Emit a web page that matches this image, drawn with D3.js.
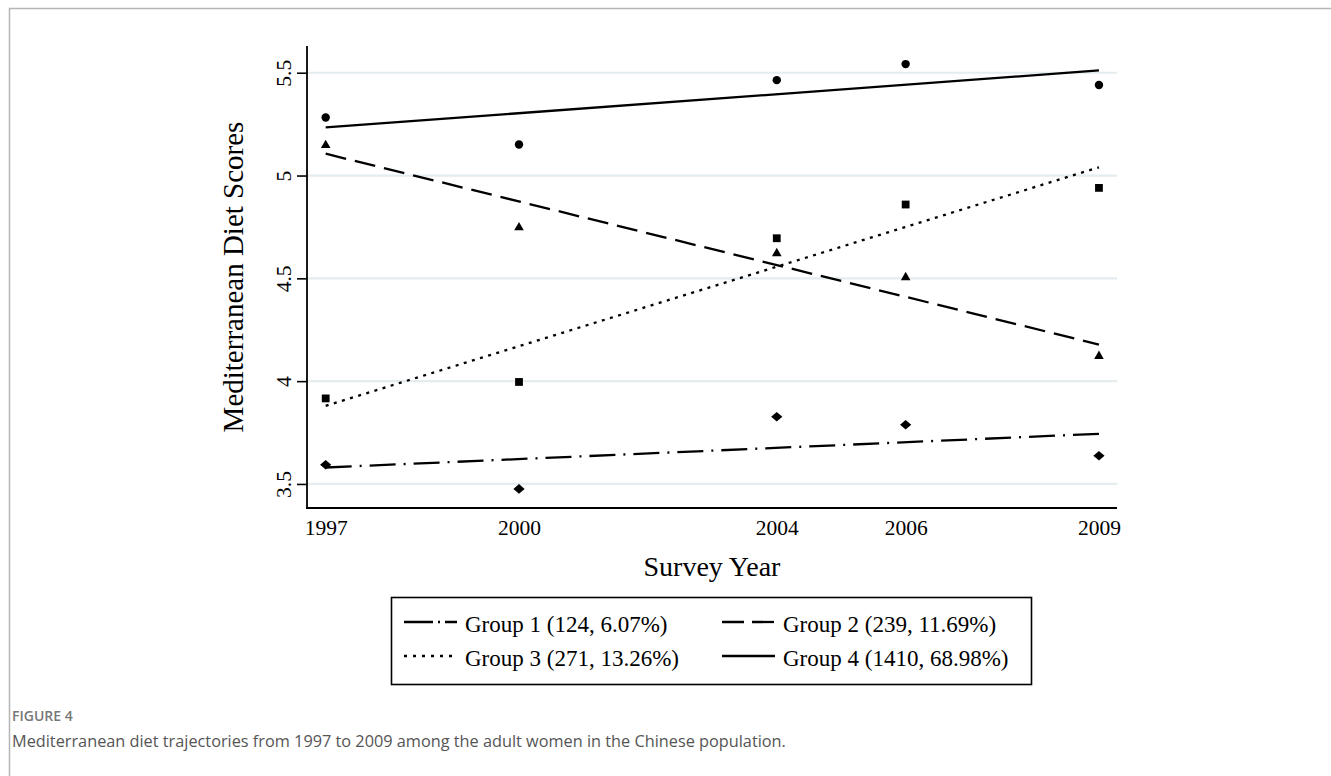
<!DOCTYPE html>
<html>
<head>
<meta charset="utf-8">
<script src="https://cdn.jsdelivr.net/npm/d3@7"></script>
<style>
  html, body { margin: 0; padding: 0; background: #fff; }
  svg { display: block; }
</style>
</head>
<body>
<svg id="chart" width="1331" height="776"></svg>
<script>
// ---------------- DATA ----------------
const years = [1997, 2000, 2004, 2006, 2009];
const yTicks = [3.5, 4, 4.5, 5, 5.5];
const yTickLabels = ["3.5", "4", "4.5", "5", "5.5"];
const groupNames = ["Group 1 (124, 6.07%)", "Group 2 (239, 11.69%)", "Group 3 (271, 13.26%)", "Group 4 (1410, 68.98%)"];
// observed means (markers)
const group1Points = [3.593, 3.476, 3.827, 3.788, 3.637];
const group2Points = [5.150, 4.750, 4.624, 4.507, 4.124];
const group3Points = [3.916, 3.996, 4.695, 4.859, 4.940];
const group4Points = [5.282, 5.151, 5.464, 5.542, 5.440];
// fitted trajectory values at first and last survey year
const fitYears = [1997, 2009];
const group1Fit = [3.580, 3.744];
const group2Fit = [5.106, 4.178];
const group3Fit = [3.880, 5.040];
const group4Fit = [5.234, 5.511];
const xTitle = "Survey Year";
const yTitle = "Mediterranean Diet Scores";
const figLabel = "FIGURE 4";
const captionText = "Mediterranean diet trajectories from 1997 to 2009 among the adult women in the Chinese population.";

// ---------------- SETUP ----------------
const svg = d3.select("#chart");
const serif = "'Liberation Serif', 'Times New Roman', serif";
const sans = "'Open Sans', 'Noto Sans', sans-serif";

// figure frame (top and left edge)
svg.append("path")
  .attr("d", "M9.5,776 L9.5,8.5 L1331,8.5")
  .attr("fill", "none").attr("stroke", "#b5b5b5").attr("stroke-width", 1.5);

const plot = { left: 307, right: 1117, top: 46, bottom: 508 };
const x = d3.scaleLinear().domain([1996.71, 2009.28]).range([plot.left, plot.right]);
const y = d3.scaleLinear().domain([3.383, 5.63]).range([plot.bottom, plot.top]);

// gridlines
svg.append("g").selectAll("line").data(yTicks).join("line")
  .attr("x1", plot.left).attr("x2", plot.right)
  .attr("y1", d => y(d)).attr("y2", d => y(d))
  .attr("stroke", "#e4ecef").attr("stroke-width", 2.2);

// y axis
const yAxis = svg.append("g").attr("transform", `translate(${plot.left},0)`)
  .call(d3.axisLeft(y).tickValues(yTicks).tickSize(10).tickSizeOuter(0)
    .tickFormat((d, i) => yTickLabels[i]));
yAxis.select(".domain").attr("d", `M0,${plot.top}V${plot.bottom}`).attr("stroke", "#000").attr("stroke-width", 1.8);
yAxis.selectAll(".tick line").attr("stroke", "#000").attr("stroke-width", 1.6);
yAxis.selectAll(".tick text")
  .attr("x", null).attr("dy", null)
  .attr("transform", "translate(-16,0) rotate(-90)")
  .attr("text-anchor", "middle")
  .attr("font-family", serif).attr("font-size", 21.5).attr("fill", "#000");

// x axis
const xAxis = svg.append("g").attr("transform", `translate(0,${plot.bottom})`)
  .call(d3.axisBottom(x).tickValues(years).tickSize(0).tickSizeOuter(0).tickFormat(d3.format("d")));
xAxis.select(".domain").attr("d", `M${plot.left - 1},0H${plot.right}`).attr("stroke", "#000").attr("stroke-width", 1.8);
xAxis.selectAll(".tick text")
  .attr("y", 27).attr("dy", null)
  .attr("font-family", serif).attr("font-size", 21.5).attr("fill", "#000");

// axis titles
svg.append("text")
  .attr("transform", `translate(243,${(plot.top + plot.bottom) / 2}) rotate(-90)`)
  .attr("text-anchor", "middle")
  .attr("font-family", serif).attr("font-size", 29).attr("fill", "#000")
  .text(yTitle);
svg.append("text")
  .attr("x", (plot.left + plot.right) / 2).attr("y", 576)
  .attr("text-anchor", "middle")
  .attr("font-family", serif).attr("font-size", 28).attr("fill", "#000")
  .text(xTitle);

// ---------------- SERIES ----------------
const tri = { draw(ctx) { const w = 4.8, h = 8.4; ctx.moveTo(0, -h * 0.6); ctx.lineTo(w, h * 0.4); ctx.lineTo(-w, h * 0.4); ctx.closePath(); } };
const dia = { draw(ctx) { ctx.moveTo(0, -4.8); ctx.lineTo(5.6, 0); ctx.lineTo(0, 4.8); ctx.lineTo(-5.6, 0); ctx.closePath(); } };
const sq = { draw(ctx) { const s = 3.9; ctx.rect(-s, -s, 2 * s, 2 * s); } };
const circ = { draw(ctx) { ctx.moveTo(4.2, 0); ctx.arc(0, 0, 4.2, 0, 2 * Math.PI); } };

const series = [
  { pts: group1Points, fit: group1Fit, dash: "26,8,2,8", sym: dia, legendDash: "29,5,2,5,9,0" },
  { pts: group2Points, fit: group2Fit, dash: "21,9", sym: tri, legendDash: "22,8" },
  { pts: group3Points, fit: group3Fit, dash: "3,5.5", sym: sq, legendDash: "3,6" },
  { pts: group4Points, fit: group4Fit, dash: null, sym: circ, legendDash: null }
];

const line = d3.line().x(d => x(d[0])).y(d => y(d[1]));

series.forEach(s => {
  svg.append("path")
    .datum(fitYears.map((yr, i) => [yr, s.fit[i]]))
    .attr("d", line)
    .attr("fill", "none").attr("stroke", "#000").attr("stroke-width", 2.3)
    .attr("stroke-dasharray", s.dash);
  svg.append("g").selectAll("path").data(years.map((yr, i) => [yr, s.pts[i]])).join("path")
    .attr("transform", d => `translate(${x(d[0])},${y(d[1])})`)
    .attr("d", d3.symbol().type(s.sym).size(64))
    .attr("fill", "#000");
});

// ---------------- LEGEND ----------------
const lg = svg.append("g");
lg.append("rect").attr("x", 391.5).attr("y", 597.5).attr("width", 640).attr("height", 87)
  .attr("fill", "#fff").attr("stroke", "#000").attr("stroke-width", 1.6);
const legPos = [
  { lx: 404, tx: 465, ly: 622 },
  { lx: 722, tx: 783, ly: 622 },
  { lx: 404, tx: 465, ly: 656 },
  { lx: 722, tx: 783, ly: 656 }
];
series.forEach((s, i) => {
  const p = legPos[i];
  lg.append("line").attr("x1", p.lx).attr("x2", p.lx + 53).attr("y1", p.ly).attr("y2", p.ly)
    .attr("stroke", "#000").attr("stroke-width", 2.3).attr("stroke-dasharray", s.legendDash);
  lg.append("text").attr("x", p.tx).attr("y", p.ly + 10)
    .attr("font-family", serif).attr("font-size", 23).attr("fill", "#000")
    .text(groupNames[i]);
});

// ---------------- CAPTION ----------------
svg.append("text").attr("x", 12).attr("y", 721)
  .attr("font-family", sans).attr("font-size", 14).attr("font-weight", 600).attr("fill", "#777")
  .text(figLabel);
svg.append("text").attr("x", 12).attr("y", 747)
  .attr("font-family", sans).attr("font-size", 16.3).attr("fill", "#555")
  .text(captionText);
</script>
</body>
</html>
